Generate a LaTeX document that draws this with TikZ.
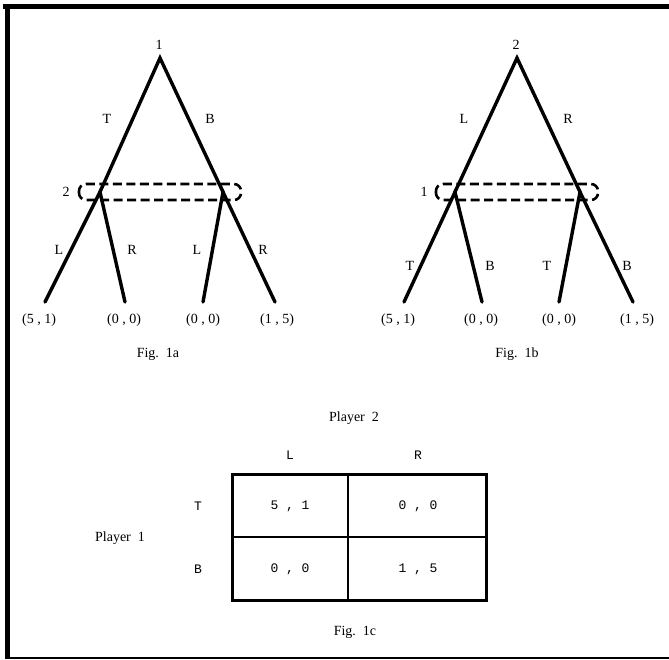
\documentclass[tikz,border=0pt]{standalone}
\usepackage{fontspec}
\setmainfont{Liberation Serif}
\setmonofont{Liberation Mono}
\begin{document}
\begin{tikzpicture}[x=1pt,y=-1pt,
  branch/.style={line width=3.4pt,line cap=round},
  infoset/.style={line width=2.6pt,dash pattern=on 9pt off 4.5pt,rounded corners=7pt},
  lbl/.style={font=\fontsize{14}{16}\selectfont,inner sep=1pt},
  mlbl/.style={font=\ttfamily\fontsize{13}{15}\selectfont,inner sep=1pt},
  pt/.style={inner sep=0pt,minimum size=0pt}]
\useasboundingbox (0,0) rectangle (669,660);
% frame
\draw[line width=5pt] (3,6.5) -- (669,6.5);
\draw[line width=5pt] (7.5,4) -- (7.5,659);
\draw[line width=2.5pt] (5,658) -- (669,658);

% ---------- Fig 1a ----------
\coordinate (ar) at (160,58);
\coordinate (aL) at (100,192);
\coordinate (aR) at (223,192);
\coordinate (a1) at (45,302);
\coordinate (a2) at (125,302);
\coordinate (a3) at (203,302);
\coordinate (a4) at (275,302);
\draw[branch] (aL) -- (ar) -- (aR);
\draw[branch] (a1) -- (aL) -- (a2);
\draw[branch] (a3) -- (aR) -- (a4);
\draw[infoset] (79,184) rectangle (241,200);
\node[lbl] (ar lab) at (159,45) {1};
\node[lbl] (aT) at (107,119) {T};
\node[lbl] (aB) at (210,119) {B};
\node[lbl] (a2lab) at (66,192) {2};
\node[lbl] (aLL) at (59,250) {L};
\node[lbl] (aLR) at (132,250) {R};
\node[lbl] (aRL) at (197,250) {L};
\node[lbl] (aRR) at (263,250) {R};
\node[lbl] (p1) at (39,320) {(5 , 1)};
\node[lbl] (p2) at (124,320) {(0 , 0)};
\node[lbl] (p3) at (203,320) {(0 , 0)};
\node[lbl] (p4) at (277,320) {(1 , 5)};
\node[lbl] (cap a) at (158,354) {Fig.\ \ 1a};

% ---------- Fig 1b ----------
\coordinate (br) at (517,58);
\coordinate (bL) at (455,192);
\coordinate (bR) at (580,192);
\coordinate (b1) at (404,302);
\coordinate (b2) at (482,302);
\coordinate (b3) at (559,302);
\coordinate (b4) at (633,302);
\draw[branch] (bL) -- (br) -- (bR);
\draw[branch] (b1) -- (bL) -- (b2);
\draw[branch] (b3) -- (bR) -- (b4);
\draw[infoset] (436,184) rectangle (598,200);
\node[lbl] (br lab) at (516,45) {2};
\node[lbl] (bLl) at (464,119) {L};
\node[lbl] (bRl) at (568,119) {R};
\node[lbl] (b1lab) at (424,192) {1};
\node[lbl] (bLT) at (410,266) {T};
\node[lbl] (bLB) at (490,266) {B};
\node[lbl] (bRT) at (547,266) {T};
\node[lbl] (bRB) at (627,266) {B};
\node[lbl] (q1) at (398,320) {(5 , 1)};
\node[lbl] (q2) at (481,320) {(0 , 0)};
\node[lbl] (q3) at (559,320) {(0 , 0)};
\node[lbl] (q4) at (637,320) {(1 , 5)};
\node[lbl] (cap b) at (517,354) {Fig.\ \ 1b};

% ---------- Fig 1c ----------
\draw[line width=3pt] (232,474) rectangle (486,600);
\draw[line width=2.5pt] (348,474) -- (348,600);
\draw[line width=2.5pt] (232,537) -- (486,537);
\node[lbl] (pl2) at (354,418) {Player\ \ 2};
\node[lbl] (pl1) at (120,538) {Player\ \ 1};
\node[mlbl] (cL) at (290,455) {L};
\node[mlbl] (cR) at (418,455) {R};
\node[mlbl] (rT) at (198,506) {T};
\node[mlbl] (rB) at (198,569) {B};
\node[mlbl] (m11) at (290,506) {5 , 1};
\node[mlbl] (m12) at (418,506) {0 , 0};
\node[mlbl] (m21) at (290,569) {0 , 0};
\node[mlbl] (m22) at (418,569) {1 , 5};
\node[lbl] (cap c) at (355,632) {Fig.\ \ 1c};
\end{tikzpicture}
\end{document}
